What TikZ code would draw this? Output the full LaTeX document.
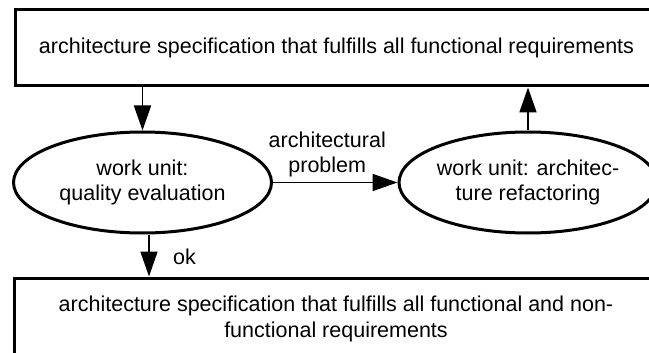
\documentclass[tikz,border=0pt]{standalone}
\usepackage{fontspec}
\setmainfont{Liberation Sans}
\usetikzlibrary{arrows.meta,shapes.geometric}
\tikzset{
  txt/.style={font=\fontsize{21.5}{25.5}\selectfont, align=center},
  specbox/.style={txt, draw, line width=3pt, rectangle, inner sep=0pt},
  unit/.style={txt, draw, line width=3pt, ellipse, inner sep=0pt,
               minimum width=258pt, minimum height=101pt},
  flow/.style={line width=1.8pt, -{Triangle[length=25pt,width=17pt]}},
}
\begin{document}
\begin{tikzpicture}[x=1pt,y=-1pt]
  \useasboundingbox (0,0) rectangle (649,353);
  \clip (0,0) rectangle (649,353);

  % specification boxes
  \node[specbox, minimum width=643pt, minimum height=76pt] (top) at (336.5,48)
    {architecture specification that fulfills all functional requirements};
  \node[specbox, minimum width=644pt, minimum height=82pt] (bot) at (336,319)
    {architecture specification that fulfills all functional and non-\\functional requirements};

  % work units
  \node[unit] (qe) at (142.5,182.5) {work unit:\\quality evaluation};
  \node[unit] (rf) at (528,182.5) {work unit: architec-\\ture refactoring};

  % connectors
  \draw[flow] (qe.north |- top.south) -- (qe.north);
  \draw[flow] (rf.north) -- (rf.north |- top.south);
  \draw[flow] (qe.east) -- node[txt, above, xshift=-8pt, yshift=1pt] (lbl) {architectural\\problem} (rf.west);
  \draw[flow] ([xshift=6.5pt]qe.south) -- ([xshift=6.5pt]qe.south |- bot.north)
    node[txt, pos=0.5, right=20pt, yshift=-1pt] (ok) {ok};
\end{tikzpicture}
\end{document}
